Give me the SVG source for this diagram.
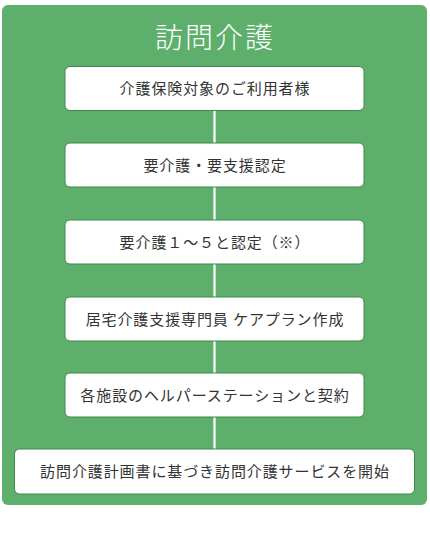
<svg xmlns="http://www.w3.org/2000/svg" width="430" height="535" viewBox="0 0 430 535">
<style>
.box{fill:#ffffff;stroke:#3e8a4a;stroke-width:1}
.t{font-family:"Noto Sans CJK JP","Noto Sans",sans-serif;font-size:15px;letter-spacing:0.9px;fill:#333333;text-anchor:middle}
.title{font-family:"Noto Sans CJK JP","Noto Sans",sans-serif;font-size:28px;letter-spacing:2px;fill:#ffffff;text-anchor:middle;font-weight:300}
.c{stroke:#ffffff;stroke-width:2.2}
</style>
<rect x="2" y="5" width="425" height="500" rx="6" fill="#5daf6b"/>
<text class="title" x="215" y="47.5">訪問介護</text>
<g id="connectors">
<line class="c" x1="214.5" y1="111" x2="214.5" y2="143"/>
<line class="c" x1="214.5" y1="187" x2="214.5" y2="220"/>
<line class="c" x1="214.5" y1="264" x2="214.5" y2="297"/>
<line class="c" x1="214.5" y1="341" x2="214.5" y2="373"/>
<line class="c" x1="214.5" y1="417" x2="214.5" y2="449"/>
</g>
<g id="n1"><rect class="box" x="65" y="66.5" width="299" height="44" rx="5"/><text class="t" x="215" y="94">介護保険対象のご利用者様</text></g>
<g id="n2"><rect class="box" x="65" y="143" width="299" height="44" rx="5"/><text class="t" x="215" y="170.5">要介護・要支援認定</text></g>
<g id="n3"><rect class="box" x="65" y="220" width="299" height="44" rx="5"/><text class="t" x="215" y="247.5">要介護１～５と認定（※）</text></g>
<g id="n4"><rect class="box" x="65" y="297" width="299" height="44" rx="5"/><text class="t" x="215" y="324.5">居宅介護支援専門員 ケアプラン作成</text></g>
<g id="n5"><rect class="box" x="65" y="373" width="299" height="44" rx="5"/><text class="t" x="215" y="400.5">各施設のヘルパーステーションと契約</text></g>
<g id="n6"><rect class="box" x="14.5" y="449" width="400" height="45" rx="5"/><text class="t" x="215" y="477">訪問介護計画書に基づき訪問介護サービスを開始</text></g>
</svg>
